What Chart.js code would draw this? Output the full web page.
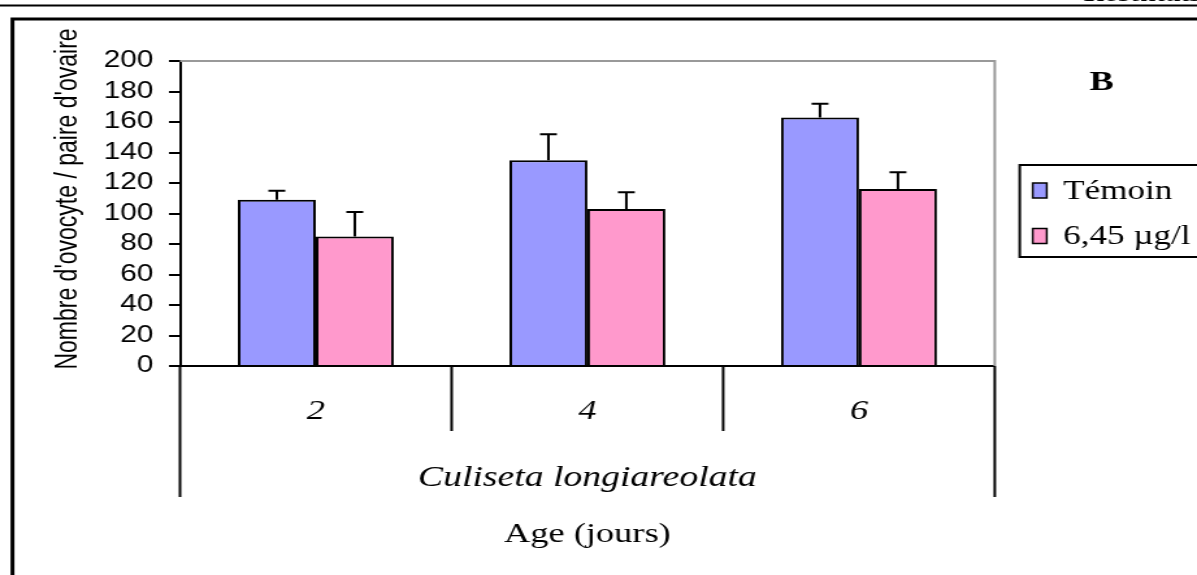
<!DOCTYPE html>
<html>
<head>
<meta charset="utf-8">
<script src="https://cdn.jsdelivr.net/npm/chart.js@4/dist/chart.umd.min.js"></script>
<style>
  html, body { margin: 0; padding: 0; background: #fff; overflow: hidden; }
  /* the figure is laid out on a 921px canvas and widened to the page width */
  #wrap { width: 921px; height: 575px; transform: scaleX(1.29967); transform-origin: 0 0; }
  canvas { display: block; }
</style>
</head>
<body>
<div id="wrap"><canvas id="c" width="921" height="575"></canvas></div>
<script>
// Oocyte counts per ovary pair by age, control vs treated females
const ages = ['2', '4', '6'];
const temoin = [109, 135, 163];
const temoinErr = [6, 17, 9];
const traite = [85, 103, 116];
const traiteErr = [16, 11, 11];
const seriesNames = ['Témoin', '6,45 µg/l'];
const seriesColors = ['#9999FF', '#FF99CC'];
const yMin = 0, yMax = 200, yStep = 20;

const yTitle = "Nombre d'ovocyte / paire d'ovaire";
const speciesName = 'Culiseta longiareolata';
const xTitle = 'Age (jours)';
const panelLetter = 'B';
const headerText = 'Résultats';

const SERIF = '"Liberation Serif", "Times New Roman", serif';
const SANS = '"Liberation Sans", Arial, sans-serif';

// upward error whiskers with a short cap
const errorBars = {
  id: 'errorBars',
  afterDatasetsDraw(chart) {
    const ctx = chart.ctx, ys = chart.scales.y;
    ctx.save();
    ctx.strokeStyle = '#000';
    ctx.lineWidth = 2;
    chart.data.datasets.forEach((ds, di) => {
      chart.getDatasetMeta(di).data.forEach((bar, i) => {
        const top = ys.getPixelForValue(ds.data[i] + ds.errors[i]);
        ctx.beginPath();
        ctx.moveTo(bar.x, bar.y);
        ctx.lineTo(bar.x, top);
        ctx.moveTo(bar.x - 6.5, top);
        ctx.lineTo(bar.x + 6.5, top);
        ctx.stroke();
      });
    });
    ctx.restore();
  }
};

// page frame, plot border, category dividers, legend box and annotations
const decorations = {
  id: 'decorations',
  afterDraw(chart) {
    const ctx = chart.ctx, a = chart.chartArea;
    const W = chart.width, H = chart.height;
    ctx.save();

    // page rules and frame
    ctx.strokeStyle = '#000';
    ctx.lineWidth = 2;
    ctx.beginPath(); ctx.moveTo(0, 5.5); ctx.lineTo(W, 5.5); ctx.stroke();
    ctx.lineWidth = 3;
    ctx.beginPath(); ctx.moveTo(W + 5, 19); ctx.lineTo(9.6, 19); ctx.lineTo(9.6, H + 5); ctx.stroke();

    // running header
    ctx.fillStyle = '#000';
    ctx.font = 'italic bold 24px ' + SERIF;
    ctx.textAlign = 'right';
    ctx.textBaseline = 'alphabetic';
    ctx.fillText(headerText, W + 4, 0.5);

    // grey plot border (top and right)
    ctx.strokeStyle = '#999999';
    ctx.lineWidth = 2;
    ctx.beginPath();
    ctx.moveTo(a.left, a.top);
    ctx.lineTo(a.right, a.top);
    ctx.lineTo(a.right, a.bottom);
    ctx.stroke();

    // category dividers below the axis
    ctx.strokeStyle = '#000';
    ctx.lineWidth = 2;
    const n = ages.length, step = (a.right - a.left) / n;
    for (let i = 0; i <= n; i++) {
      const x = a.left + i * step;
      const end = (i === 0 || i === n) ? 497 : 431;
      ctx.beginPath(); ctx.moveTo(x, a.bottom); ctx.lineTo(x, end); ctx.stroke();
    }

    // y axis title
    ctx.save();
    ctx.translate(52.3, 199);
    ctx.rotate(-Math.PI / 2);
    ctx.font = '23px ' + SANS;
    ctx.textAlign = 'center';
    ctx.textBaseline = 'middle';
    ctx.fillText(yTitle, 0, 0);
    ctx.restore();

    // panel letter
    ctx.font = 'bold 28px ' + SERIF;
    ctx.textAlign = 'center';
    ctx.textBaseline = 'middle';
    ctx.fillText(panelLetter, 847.5, 83);

    // legend
    const lx = 784.6, ly = 165, lh = 92;
    ctx.lineWidth = 2;
    ctx.strokeRect(lx, ly, W - lx + 10, lh);
    ctx.font = '27px ' + SERIF;
    ctx.textAlign = 'left';
    const rows = [190.5, 236];
    chart.data.datasets.forEach((ds, i) => {
      const cy = rows[i];
      ctx.fillStyle = ds.backgroundColor;
      ctx.fillRect(794.6, cy - 7.5, 10.8, 15);
      ctx.lineWidth = 1.5;
      ctx.strokeStyle = '#000';
      ctx.strokeRect(794.6, cy - 7.5, 10.8, 15);
      ctx.fillStyle = '#000';
      ctx.fillText(ds.label, 818, cy + 1);
    });

    ctx.restore();
  }
};

new Chart(document.getElementById('c'), {
  type: 'bar',
  data: {
    labels: ages,
    datasets: [
      { label: seriesNames[0], data: temoin, errors: temoinErr, backgroundColor: seriesColors[0],
        borderColor: '#000', borderWidth: 2 },
      { label: seriesNames[1], data: traite, errors: traiteErr, backgroundColor: seriesColors[1],
        borderColor: '#000', borderWidth: 2 }
    ]
  },
  options: {
    responsive: false,
    animation: false,
    events: [],
    layout: { padding: { left: 0, right: 155.6, top: 61, bottom: 0 } },
    datasets: { bar: { categoryPercentage: 0.574, barPercentage: 1.0 } },
    scales: {
      x: {
        type: 'category',
        afterFit(s) { s.height = 86.6; },
        grid: { display: false, drawTicks: false },
        border: { display: true, color: '#000', width: 2 },
        ticks: {
          color: '#000', padding: 29, maxRotation: 0, autoSkip: false,
          font: { family: SERIF, size: 28, style: 'italic' }
        }
      },
      y: {
        min: yMin, max: yMax,
        afterFit(s) { s.width = 138.5; },
        grid: { drawOnChartArea: false, drawTicks: true, tickLength: 8.5, color: '#000', lineWidth: 2 },
        border: { display: true, color: '#000', width: 2 },
        ticks: { stepSize: yStep, autoSkip: false, color: '#000', padding: 12, font: { family: SANS, size: 23 } }
      }
    },
    plugins: {
      legend: { display: false },
      tooltip: { enabled: false },
      subtitle: {
        display: true, text: speciesName, position: 'bottom', fullSize: false, color: '#000',
        font: { family: SERIF, size: 29, style: 'italic', weight: 'normal' },
        padding: { top: 8, bottom: 12.8 }
      },
      title: {
        display: true, text: xTitle, position: 'bottom', fullSize: false, color: '#000',
        font: { family: SERIF, size: 28, weight: 'normal' },
        padding: { top: 10, bottom: 23.2 }
      }
    }
  },
  plugins: [errorBars, decorations]
});
</script>
</body>
</html>
